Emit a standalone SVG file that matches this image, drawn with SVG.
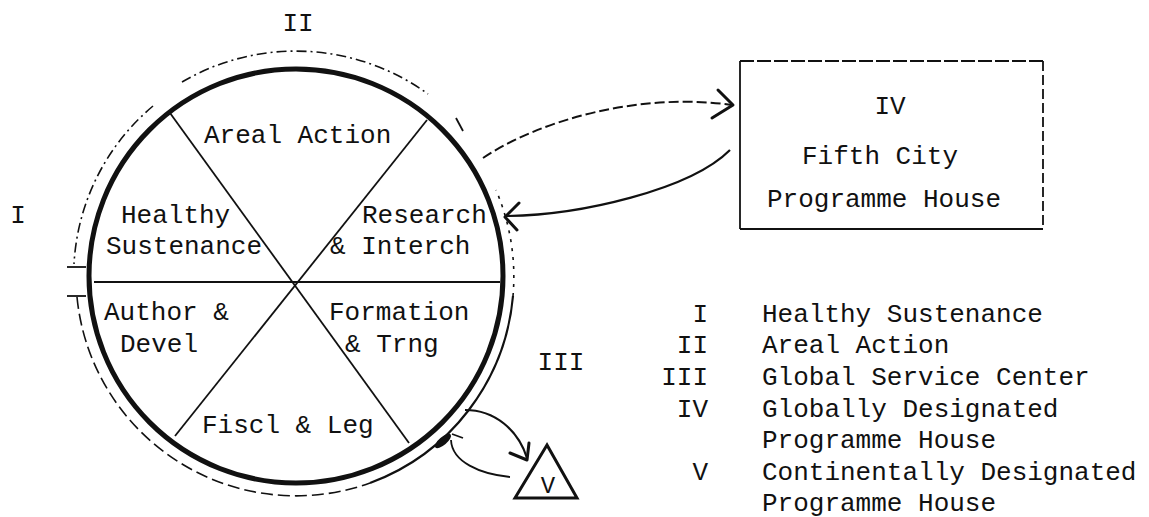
<svg xmlns="http://www.w3.org/2000/svg" width="1149" height="517" viewBox="0 0 1149 517">
<defs>
<style>
text{font-family:"Liberation Mono","DejaVu Sans Mono",monospace;font-size:26px;fill:#111}
.m{text-anchor:middle}
.e{text-anchor:end}
.ln{fill:none;stroke:#111;stroke-width:1.8}
.dd{fill:none;stroke:#111;stroke-width:1.6;stroke-dasharray:10 4 2 4}
.ds{fill:none;stroke:#111;stroke-width:1.6;stroke-dasharray:12 5}
.arr{fill:none;stroke:#111;stroke-width:3;stroke-linecap:round;stroke-linejoin:round}
</style>
</defs>
<rect width="1149" height="517" fill="#fff"/>

<g id="wheel">
<circle cx="296" cy="276" r="207" fill="none" stroke="#111" stroke-width="5"/>
<line class="ln" x1="94" y1="282" x2="500" y2="282"/>
<line class="ln" x1="170" y1="113" x2="409" y2="443"/>
<line class="ln" x1="427" y1="120" x2="175" y2="436"/>
<text x="204" y="143">Areal Action</text>
<text x="121" y="223">Healthy</text>
<text x="106" y="254">Sustenance</text>
<text x="362" y="223">Research</text>
<text x="330" y="254">&amp; Interch</text>
<text x="104" y="320">Author &amp;</text>
<text x="120" y="352">Devel</text>
<text x="329" y="320">Formation</text>
<text x="345" y="352">&amp; Trng</text>
<text x="202" y="433">Fiscl &amp; Leg</text>
</g>

<g id="zone-labels">
<path class="dd" d="M182,82 A225,225 0 0,1 428,94"/>
<path class="dd" d="M153,106 A222,222 0 0,0 74,264"/>
<line class="ln" x1="67" y1="267" x2="86" y2="267"/>
<path class="ds" d="M77,297 A220,220 0 0,0 370,483"/>
<path fill="none" stroke="#111" stroke-width="2.2" d="M370,483 A220,220 0 0,0 513,296"/>
<path fill="none" stroke="#111" stroke-width="1.6" stroke-dasharray="3 6" d="M513,296 A220,220 0 0,0 496,190"/>
<line class="ln" x1="67" y1="296" x2="86" y2="296"/>
<line class="ln" x1="456" y1="118" x2="463" y2="131"/>
<text class="m" x="298" y="31">II</text>
<text class="m" x="18" y="223">I</text>
<text class="m" x="561" y="370">III</text>
</g>

<g id="box-iv">
<line class="ln" x1="740" y1="61" x2="740" y2="229"/>
<line class="ln" x1="740" y1="61" x2="1043" y2="61" stroke-dasharray="14 3"/>
<line class="ln" x1="1043" y1="61" x2="1043" y2="229" stroke-dasharray="10 4"/>
<line class="ln" x1="740" y1="229" x2="1043" y2="229"/>
<text class="m" x="890" y="114">IV</text>
<text class="m" x="880" y="164">Fifth City</text>
<text class="m" x="884" y="207">Programme House</text>
</g>

<g id="triangle-v">
<polygon points="547,445 515,498 577,498" fill="none" stroke="#111" stroke-width="3" stroke-linejoin="miter"/>
<text class="m" x="548" y="493" style="font-size:24px">V</text>
</g>

<g id="connectors">
<path d="M483,158 C540,120 640,92 732,105" fill="none" stroke="#111" stroke-width="2" stroke-dasharray="10 4"/>
<polyline class="arr" points="718,90 733,105 712,118"/>
<path d="M730,150 C690,190 580,215 507,216" fill="none" stroke="#111" stroke-width="2.2"/>
<polyline class="arr" points="519,203 505,217 517,230"/>
<path d="M465,410 C495,410 518,430 527,458" fill="none" stroke="#111" stroke-width="2.2"/>
<polyline class="arr" points="510,453 527,460 529,443"/>
<path d="M510,477 C480,474 452,462 451,440" fill="none" stroke="#111" stroke-width="1.8"/>
<ellipse cx="443" cy="441" rx="10" ry="4" transform="rotate(-40 443 441)" fill="#111"/>
<line class="ln" x1="452" y1="434" x2="463" y2="438"/>
</g>

<g id="legend">
<text class="e" x="708" y="322">I</text>
<text x="762" y="322">Healthy Sustenance</text>
<text class="e" x="708" y="353">II</text>
<text x="762" y="353">Areal Action</text>
<text class="e" x="708" y="385">III</text>
<text x="762" y="385">Global Service Center</text>
<text class="e" x="708" y="417">IV</text>
<text x="762" y="417">Globally Designated</text>
<text x="762" y="448">Programme House</text>
<text class="e" x="708" y="480">V</text>
<text x="762" y="480">Continentally Designated</text>
<text x="762" y="511">Programme House</text>
</g>
</svg>
